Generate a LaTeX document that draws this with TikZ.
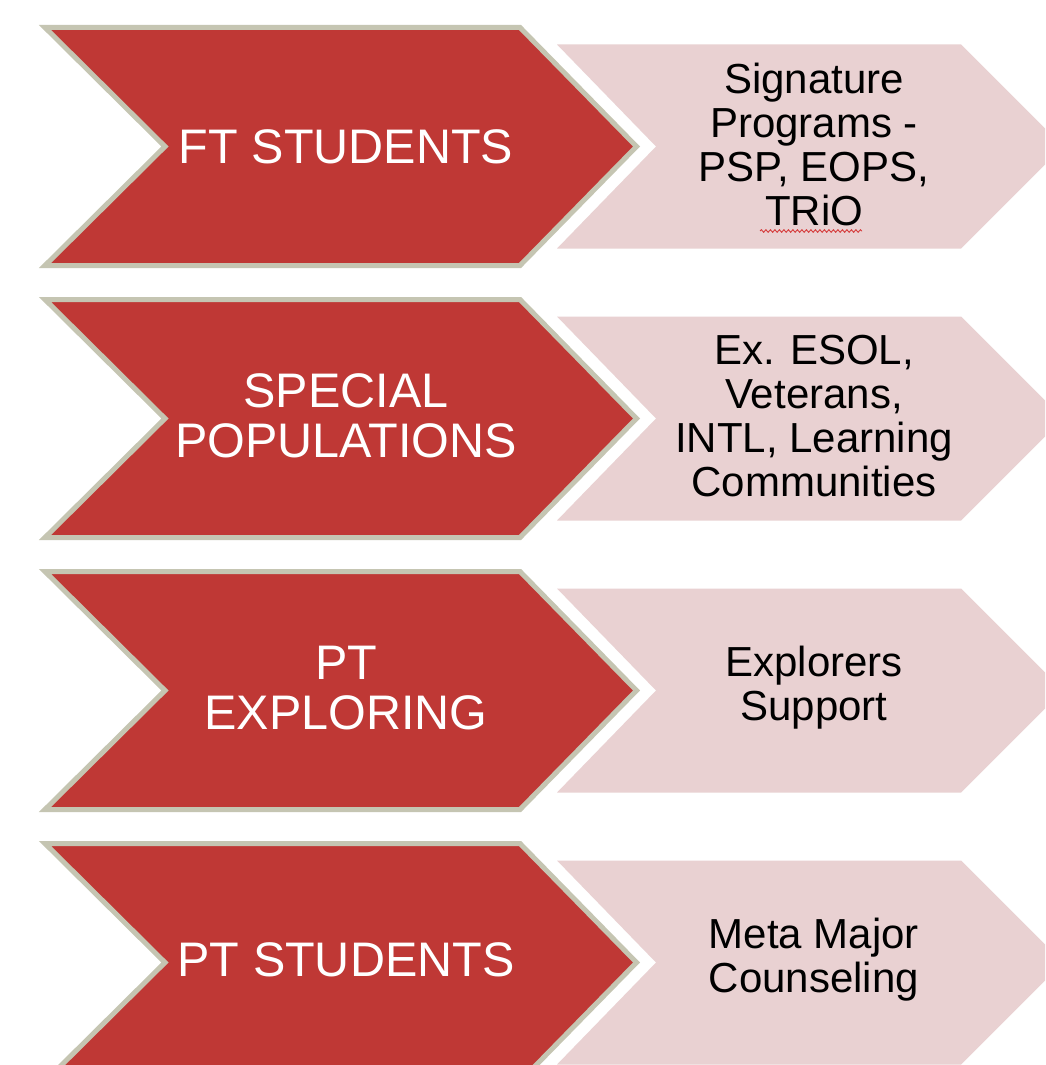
\documentclass[tikz,border=0pt]{standalone}
\usepackage{fontspec}
\setmainfont{Liberation Sans}
\usetikzlibrary{decorations.pathmorphing}
\definecolor{chevred}{RGB}{191,56,53}
\definecolor{chevrim}{RGB}{197,197,178}
\definecolor{chevpink}{RGB}{233,209,210}
\definecolor{squiggle}{RGB}{214,60,60}
\tikzset{
  redchev/.style={fill=chevred, draw=chevrim, line width=5pt, line join=miter},
  pinkchev/.style={fill=chevpink, draw=none},
  redtext/.style={text=white, align=center, inner sep=0pt, font=\fontsize{48.5}{50}\selectfont},
  pinktext/.style={text=black, align=center, inner sep=0pt, font=\fontsize{42}{44}\selectfont},
}
\newcommand\RedChev[1]{\draw[redchev] (45,{#1-119}) -- (520,{#1-119}) -- (636.5,#1) -- (520,{#1+119}) -- (45,{#1+119}) -- (165,#1) -- cycle;}
\newcommand\PinkChev[1]{\fill[pinkchev] (557,{#1-102}) -- (961,{#1-102}) -- (1063,#1) -- (961,{#1+102}) -- (557,{#1+102}) -- (656,#1) -- cycle;}
\begin{document}
\begin{tikzpicture}[x=1pt,y=-1pt]
\useasboundingbox (0,0) rectangle (1045,1065);
\clip (0,0) rectangle (1045,1065);
\fill[white] (0,0) rectangle (1045,1065);
% row shapes
\PinkChev{146.5}
\PinkChev{418.5}
\PinkChev{690.5}
\PinkChev{962.5}
\RedChev{146.5}
\RedChev{418.5}
\RedChev{690.5}
\RedChev{962.5}
% texts
\node[redtext] (r1) at (346,146.5) {FT STUDENTS};
\node[redtext] (r2) at (346,416) {SPECIAL\\POPULATIONS};
\node[redtext] (r3) at (346,688) {PT\\EXPLORING};
\node[redtext] (r4) at (346,960) {PT STUDENTS};
\node[pinktext] (p1) at (814,144) {Signature\\Programs -\\PSP, EOPS,\\TRiO};
\node[pinktext] (p2) at (814,416) {Ex. ESOL,\\Veterans,\\INTL, Learning\\Communities};
\node[pinktext] (p3) at (814,688) {Explorers\\Support};
\node[pinktext] (p4) at (814,960) {Meta Major\\Counseling};
\draw[squiggle, line width=0.9pt, decorate, decoration={snake, amplitude=1.3pt, segment length=4.5pt}] (760,231) -- (862,231);
\end{tikzpicture}
\end{document}
